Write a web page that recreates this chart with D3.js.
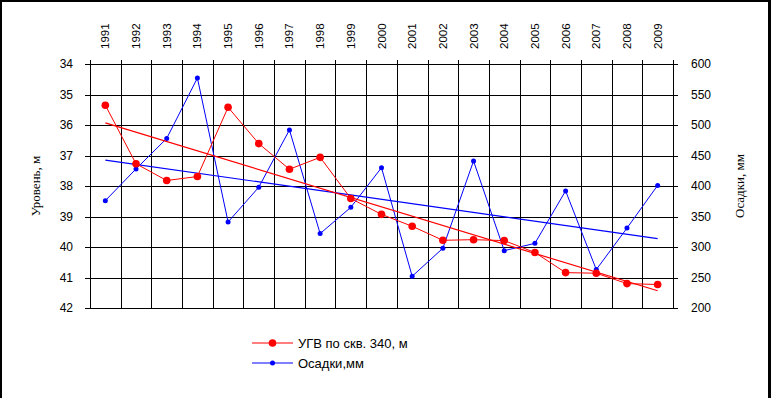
<!DOCTYPE html>
<html>
<head>
<meta charset="utf-8">
<script src="https://cdn.jsdelivr.net/npm/d3@7"></script>
<style>
  html, body { margin: 0; padding: 0; background: #fff; }
  svg { display: block; }
  .tick-label { font-family: "Liberation Sans", Arial, sans-serif; font-size: 12px; fill: #000; }
  .axis-title { font-family: "Liberation Serif", "Times New Roman", serif; font-size: 13px; fill: #000; }
  .legend-label { font-family: "Liberation Sans", Arial, sans-serif; font-size: 13px; fill: #000; }
</style>
</head>
<body>
<svg id="chart" width="771" height="398"></svg>
<script>
// Data
const years = ['1991', '1992', '1993', '1994', '1995', '1996', '1997', '1998', '1999', '2000',
  '2001', '2002', '2003', '2004', '2005', '2006', '2007', '2008', '2009'];

// groundwater level, m (left axis, inverted)
const levelValues = [35.35, 37.27, 37.82, 37.69, 35.42, 36.61, 37.45, 37.06, 38.41, 38.93,
  39.32, 39.78, 39.76, 39.79, 40.18, 40.84, 40.86, 41.2, 41.23];

// precipitation, mm (right axis)
const rainValues = [376, 428, 478, 577, 341, 398, 492, 322, 365, 430,
  252, 298, 441, 294, 306, 392, 263, 331, 401];

const levelTicks = [34, 35, 36, 37, 38, 39, 40, 41, 42];
const rainTicks = [200, 250, 300, 350, 400, 450, 500, 550, 600];

const levelLabel = 'УГВ по скв. 340, м';
const rainLabel = 'Осадки,мм';

const LEVEL_COLOR = '#ff0000';
const RAIN_COLOR = '#0000ff';

const plot = { left: 90, right: 673, top: 64, bottom: 308 };

const svg = d3.select('#chart');

// frame of the chart area (top, left, right edges only)
svg.append('rect').attr('x', 0).attr('y', 0).attr('width', 771).attr('height', 2).attr('fill', '#000');
svg.append('rect').attr('x', 0).attr('y', 0).attr('width', 2).attr('height', 398).attr('fill', '#000');
svg.append('rect').attr('x', 768).attr('y', 0).attr('width', 3).attr('height', 398).attr('fill', '#000');

const x = d3.scaleBand()
  .domain(years)
  .range([plot.left, plot.right])
  .paddingInner(0)
  .paddingOuter(0);

const cx = (d) => x(d) + x.bandwidth() / 2;

const yLevel = d3.scaleLinear()
  .domain([34, 42])
  .range([plot.top, plot.bottom]);

const yRain = d3.scaleLinear()
  .domain([200, 600])
  .range([plot.bottom, plot.top]);

// Grid: horizontal lines at each tick (with small outer ticks both sides)
const grid = svg.append('g')
  .attr('stroke', '#000')
  .attr('stroke-width', 1)
  .attr('shape-rendering', 'crispEdges');

grid.selectAll('line.h')
  .data(levelTicks)
  .join('line')
  .attr('class', 'h')
  .attr('x1', plot.left - 5)
  .attr('x2', plot.right + 5)
  .attr('y1', (d) => Math.round(yLevel(d)) + 0.5)
  .attr('y2', (d) => Math.round(yLevel(d)) + 0.5);

// vertical lines at category boundaries, plus both axes
const boundaries = years.map((d) => x(d)).concat([plot.right]);
grid.selectAll('line.v')
  .data(boundaries)
  .join('line')
  .attr('class', 'v')
  .attr('x1', (d) => Math.round(d) + 0.5)
  .attr('x2', (d) => Math.round(d) + 0.5)
  .attr('y1', plot.top - 4)
  .attr('y2', plot.bottom + 1);

// Tick labels through d3 axes (lines hidden, grid is drawn above)
const leftAxis = svg.append('g')
  .attr('transform', `translate(${plot.left},0)`)
  .call(d3.axisLeft(yLevel).tickValues(levelTicks).tickSize(0).tickPadding(17));

const rightAxis = svg.append('g')
  .attr('transform', `translate(${plot.right},0)`)
  .call(d3.axisRight(yRain).tickValues(rainTicks).tickSize(0).tickPadding(18));

[leftAxis, rightAxis].forEach((g) => {
  g.select('.domain').remove();
  g.selectAll('.tick line').remove();
  g.selectAll('.tick text')
    .attr('class', 'tick-label')
    .attr('font-family', null)
    .attr('font-size', null);
});
leftAxis.attr('font-family', null).attr('font-size', null);
rightAxis.attr('font-family', null).attr('font-size', null);

// year labels, rotated, above the plot
svg.append('g')
  .selectAll('text')
  .data(years)
  .join('text')
  .attr('class', 'tick-label')
  .style('font-size', '11.5px')
  .attr('transform', (d) => `translate(${cx(d)},49) rotate(-90)`)
  .attr('dy', '0.35em')
  .attr('text-anchor', 'start')
  .text((d) => d);

// axis titles
svg.append('text')
  .attr('class', 'axis-title')
  .attr('transform', `translate(35,${(plot.top + plot.bottom) / 2}) rotate(-90)`)
  .attr('text-anchor', 'middle')
  .attr('dy', '0.35em')
  .text('Уровень, м');

svg.append('text')
  .attr('class', 'axis-title')
  .attr('transform', `translate(739,${(plot.top + plot.bottom) / 2}) rotate(-90)`)
  .attr('text-anchor', 'middle')
  .attr('dy', '0.35em')
  .text('Осадки, мм');

// Linear trend by least squares over category index
function trend(values) {
  const n = values.length;
  const mx = (n - 1) / 2;
  const my = d3.mean(values);
  let sxy = 0, sxx = 0;
  values.forEach((v, i) => { sxy += (i - mx) * (v - my); sxx += (i - mx) * (i - mx); });
  const k = sxy / sxx;
  return [my - k * mx, my + k * (n - 1 - mx)];
}

function drawSeries(values, yScale, color, r) {
  const pts = years.map((d, i) => [cx(d), yScale(values[i])]);
  const t = trend(values);

  svg.append('path')
    .attr('d', d3.line()(pts))
    .attr('fill', 'none')
    .attr('stroke', color)
    .attr('stroke-width', 1);

  svg.append('line')
    .attr('x1', cx(years[0]))
    .attr('x2', cx(years[years.length - 1]))
    .attr('y1', yScale(t[0]))
    .attr('y2', yScale(t[1]))
    .attr('stroke', color)
    .attr('stroke-width', 1.2);

  svg.append('g')
    .selectAll('circle')
    .data(pts)
    .join('circle')
    .attr('cx', (p) => p[0])
    .attr('cy', (p) => p[1])
    .attr('r', r)
    .attr('fill', color);
}

drawSeries(rainValues, yRain, RAIN_COLOR, 2.5);
drawSeries(levelValues, yLevel, LEVEL_COLOR, 3.8);

// Legend
const legendItems = [
  { label: levelLabel, color: LEVEL_COLOR, r: 3.8, y: 343 },
  { label: rainLabel, color: RAIN_COLOR, r: 2.5, y: 363 }
];

const legend = svg.append('g');
legendItems.forEach((it) => {
  legend.append('line')
    .attr('x1', 252).attr('x2', 293)
    .attr('y1', it.y).attr('y2', it.y)
    .attr('stroke', it.color)
    .attr('stroke-width', 1.2);
  legend.append('circle')
    .attr('cx', 272.5).attr('cy', it.y)
    .attr('r', it.r)
    .attr('fill', it.color);
  legend.append('text')
    .attr('class', 'legend-label')
    .attr('x', 298)
    .attr('y', it.y)
    .attr('dy', '0.35em')
    .text(it.label);
});
</script>
</body>
</html>
